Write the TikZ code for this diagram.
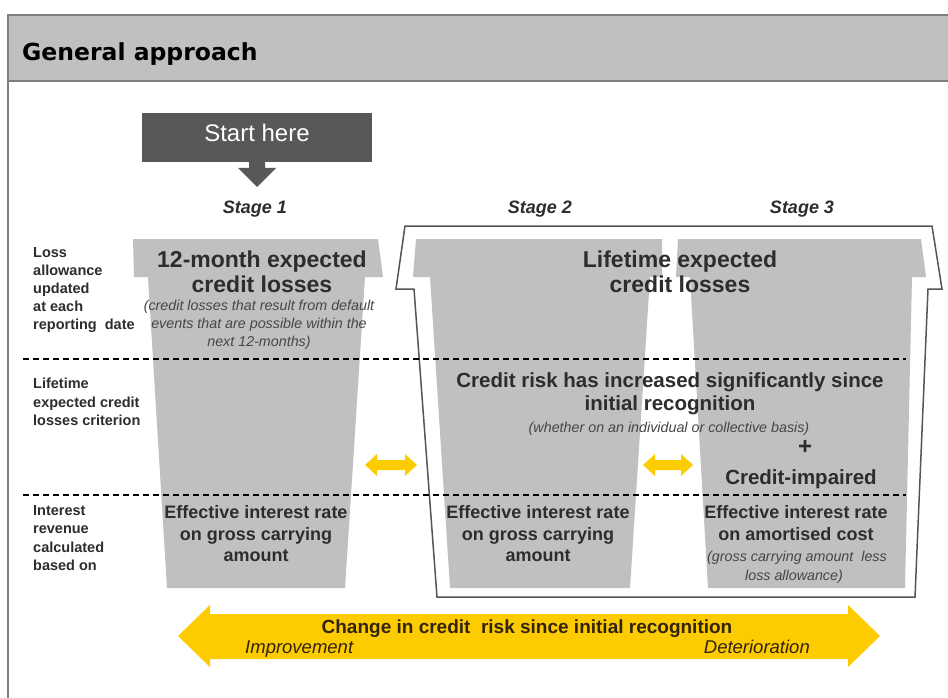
\documentclass[tikz,border=0pt]{standalone}
\usepackage{fontspec}
\setmainfont{Liberation Sans}
\newfontfamily\hdrfont{DejaVu Sans}
\definecolor{cupgray}{RGB}{192,192,192}
\definecolor{hdrgray}{RGB}{192,192,192}
\definecolor{framegray}{RGB}{128,128,128}
\definecolor{startgray}{RGB}{88,88,88}
\definecolor{outlinegray}{RGB}{85,85,85}
\definecolor{txtdark}{RGB}{45,45,45}
\definecolor{italgray}{RGB}{70,70,70}
\definecolor{ey}{RGB}{252,204,0}
\definecolor{arrtxt}{RGB}{50,35,15}
\tikzset{
  cup/.style={fill=cupgray},
  lbl/.style={anchor=base west, inner sep=0, text=txtdark, font=\bfseries\fontsize{14.5}{17}\selectfont},
  stg/.style={anchor=base, inner sep=0, text=txtdark, font=\bfseries\itshape\fontsize{18}{21}\selectfont},
  big/.style={anchor=base, inner sep=0, text=txtdark, font=\bfseries\fontsize{23}{27}\selectfont},
  mid/.style={anchor=base, inner sep=0, text=txtdark, font=\bfseries\fontsize{20.5}{24}\selectfont},
  eff/.style={anchor=base, inner sep=0, text=txtdark, font=\bfseries\fontsize{18}{21}\selectfont},
  ital/.style={anchor=base, inner sep=0, text=italgray, font=\itshape\fontsize{14.3}{17}\selectfont},
  dashline/.style={draw=black, line width=1.6pt, dash pattern=on 6pt off 4pt},
  outl/.style={draw=outlinegray, line width=1.5pt, line join=miter},
  yarrow/.style={fill=ey},
}
\begin{document}
\begin{tikzpicture}[x=1pt,y=-1pt]
\useasboundingbox (0,0) rectangle (948,698);
% frame and header
\begin{scope}
\clip (0,0) rectangle (948,698);
\draw[draw=framegray, line width=2.5pt, fill=white] (8,15) rectangle (975,720);
\draw[draw=framegray, line width=2.5pt, fill=hdrgray] (8,15) rectangle (975,81);
\end{scope}
\node[anchor=base west, inner sep=0, font=\hdrfont\bfseries\fontsize{23.5}{27}\selectfont] (hdr) at (22,61) {General approach};

% start here
\node[fill=startgray, minimum width=230pt, minimum height=49pt, inner sep=0] (start) at (257,137.5) {};
\node[anchor=base, inner sep=0, text=white, font=\fontsize{24}{28}\selectfont] (starttxt) at (257,142) {Start here};
\fill[startgray] (249,160) -- (265,160) -- (265,168) -- (276,168) -- (257,187) -- (238,168) -- (249,168) -- cycle;

% stage labels
\node[stg] (s1) at (255,213) {Stage 1};
\node[stg] (s2) at (540,213) {Stage 2};
\node[stg] (s3) at (802,213) {Stage 3};

% cups
\fill[cup] (133,239) -- (378,239) -- (383,277) -- (365,277) -- (345,588) -- (167,588) -- (148,277) -- (134,277) -- cycle;
\fill[cup] (416,239) -- (662,239) -- (662,277) -- (650,277) -- (630,588) -- (450,588) -- (430,277) -- (413,277) -- cycle;
\fill[cup] (678,239) -- (921,239) -- (926,277) -- (912,277) -- (905,588) -- (708,588) -- (690,277) -- (676,277) -- cycle;

% outline of stages 2 and 3
\draw[outl] (405,226) -- (932,226) -- (942,289) -- (928,289) -- (915,597) -- (437,597) -- (414,289) -- (396,289) -- cycle;

% dashed separators
\draw[dashline] (23,359) -- (906,359);
\draw[dashline] (23,495) -- (906,495);

% small yellow double arrows
\fill[yarrow] (365,465) -- (377,454) -- (377,460) -- (405,460) -- (405,454) -- (417,465) -- (405,476) -- (405,470) -- (377,470) -- (377,476) -- cycle;
\fill[yarrow] (643,465) -- (655,454) -- (655,460) -- (681,460) -- (681,454) -- (693,465) -- (681,476) -- (681,470) -- (655,470) -- (655,476) -- cycle;

% big arrow
\fill[yarrow] (178,636) -- (210,605) -- (210,614) -- (848,614) -- (848,605) -- (880,636) -- (848,667) -- (848,659) -- (210,659) -- (210,667) -- cycle;
\node[anchor=base, inner sep=0, text=arrtxt, font=\bfseries\fontsize{19}{22}\selectfont] (chg) at (527,633) {Change in credit\ \ risk since initial recognition};
\node[anchor=base west, inner sep=0, text=arrtxt, font=\itshape\fontsize{18.5}{22}\selectfont] (impr) at (245,653) {Improvement};
\node[anchor=base east, inner sep=0, text=arrtxt, font=\itshape\fontsize{18.5}{22}\selectfont] (deter) at (810,653) {Deterioration};

% left labels
\node[lbl] (la1) at (33,257) {Loss};
\node[lbl] (la2) at (33,275) {allowance};
\node[lbl] (la3) at (33,293) {updated};
\node[lbl] (la4) at (33,311) {at each};
\node[lbl] (la5) at (33,329) {reporting\ \ date};
\node[lbl] (lb1) at (33,388) {Lifetime};
\node[lbl] (lb2) at (33,407) {expected credit};
\node[lbl] (lb3) at (33,425) {losses criterion};
\node[lbl] (lc1) at (33,515) {Interest};
\node[lbl] (lc2) at (33,533) {revenue};
\node[lbl] (lc3) at (33,552) {calculated};
\node[lbl] (lc4) at (33,570) {based on};

% stage 1 texts
\node[big] (t1a) at (262,267) {12-month expected};
\node[big] (t1b) at (262,292) {credit losses};
\node[ital] (t1c) at (259,310) {(credit losses that result from default};
\node[ital] (t1d) at (259,328) {events that are possible within the};
\node[ital] (t1e) at (259,346) {next 12-months)};

% stage 2/3 texts
\node[big] (t2a) at (680,267) {Lifetime expected};
\node[big] (t2b) at (680,292) {credit losses};
\node[mid] (t2c) at (670,387) {Credit risk has increased significantly since};
\node[mid] (t2d) at (670,410) {initial recognition};
\node[ital] (t2e) at (669,432) {(whether on an individual or collective basis)};
\node[anchor=center, inner sep=0, text=txtdark, font=\bfseries\fontsize{24}{26}\selectfont] (plus) at (805,447) {+};
\node[mid] (t3a) at (801,484) {Credit-impaired};

% interest row
\node[eff] (e1a) at (256,518) {Effective interest rate};
\node[eff] (e1b) at (256,540) {on gross carrying};
\node[eff] (e1c) at (256,561) {amount};
\node[eff] (e2a) at (538,518) {Effective interest rate};
\node[eff] (e2b) at (538,540) {on gross carrying};
\node[eff] (e2c) at (538,561) {amount};
\node[eff] (e3a) at (796,518) {Effective interest rate};
\node[eff] (e3b) at (796,540) {on amortised cost};
\node[ital] (e3c) at (797,561) {(gross carrying amount\ \ less};
\node[ital] (e3d) at (794,580) {loss allowance)};
\end{tikzpicture}
\end{document}
